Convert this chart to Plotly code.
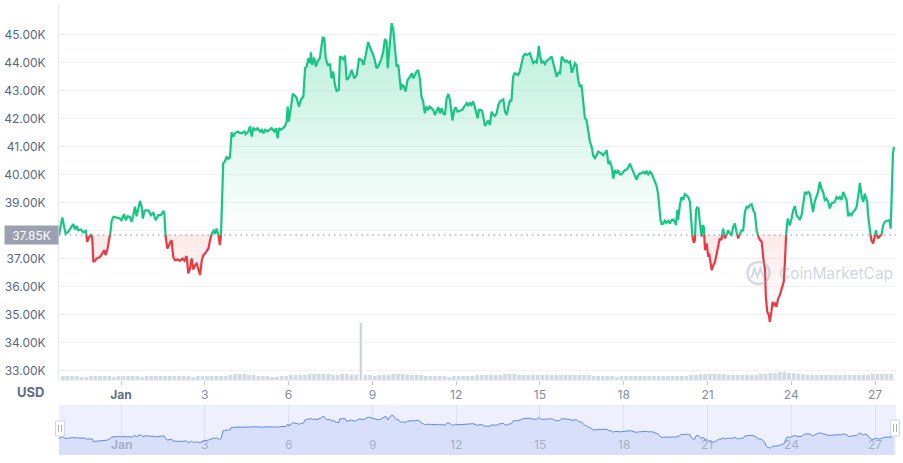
import numpy as np
import pandas as pd
import plotly.graph_objects as go

# ---------------- data ----------------
BASE_DATE = pd.Timestamp("2021-12-31")   # day_offset 0 = position of the "Jan" tick
ref_price_k = 37.85                        # reference (open) price, thousands USD

day_offset = [
    -2.22, -2.18, -2.10, -2.03, -1.98, -1.89, -1.79, -1.71, -1.65, -1.59,
    -1.53, -1.43, -1.35, -1.26, -1.21, -1.15, -1.07, -1.03, -0.99, -0.93,
    -0.87, -0.75, -0.67, -0.60, -0.55, -0.48, -0.42, -0.39, -0.33, -0.27,
    -0.16, -0.04, 0.02, 0.11, 0.17, 0.24, 0.32, 0.38, 0.44, 0.50,
    0.56, 0.62, 0.68, 0.74, 0.78, 0.84, 0.92, 1.00, 1.07, 1.16,
    1.24, 1.34, 1.43, 1.52, 1.55, 1.60, 1.66, 1.75, 1.81, 1.87,
    1.93, 2.03, 2.11, 2.20, 2.27, 2.35, 2.41, 2.47, 2.53, 2.59,
    2.65, 2.71, 2.77, 2.83, 2.89, 2.95, 3.01, 3.07, 3.13, 3.19,
    3.25, 3.31, 3.37, 3.42, 3.48, 3.54, 3.58,
    3.66, 3.72, 3.78, 3.84, 3.90, 3.96, 4.02, 4.08, 4.18, 4.26,
    4.32, 4.42, 4.46, 4.56, 4.62, 4.68, 4.74, 4.82, 4.89, 4.98,
    5.04, 5.10, 5.16, 5.25, 5.33, 5.39, 5.49, 5.55, 5.61, 5.66,
    5.73, 5.81, 5.87, 5.93, 5.97, 6.01, 6.09, 6.15, 6.23, 6.29,
    6.37, 6.44, 6.53, 6.59, 6.65, 6.71, 6.77, 6.80, 6.85, 6.92,
    6.98, 7.04, 7.12, 7.18, 7.22, 7.28, 7.33, 7.40, 7.48, 7.54,
    7.60, 7.66, 7.72, 7.80, 7.84, 7.90, 7.96, 8.02, 8.08, 8.14,
    8.20, 8.26, 8.35, 8.44, 8.52, 8.62, 8.68, 8.74, 8.79, 8.85,
    8.91, 8.97, 9.07, 9.15, 9.21, 9.31, 9.39, 9.45, 9.51, 9.55,
    9.59, 9.65, 9.69, 9.75, 9.81, 9.87, 9.93, 9.99, 10.02, 10.07,
    10.13, 10.19, 10.26, 10.35, 10.41, 10.47,
    10.58, 10.64, 10.70, 10.76, 10.82, 10.88, 10.94, 11.00, 11.06, 11.12,
    11.18, 11.24, 11.30, 11.36, 11.42, 11.48, 11.54, 11.60, 11.66, 11.72,
    11.78, 11.84, 11.87, 11.93, 11.98, 12.05, 12.14, 12.22, 12.29, 12.38,
    12.44, 12.49, 12.55, 12.61, 12.67, 12.71, 12.77, 12.82, 12.89, 12.94,
    12.99, 13.03, 13.09, 13.15, 13.21, 13.27, 13.33, 13.39, 13.45, 13.51,
    13.57, 13.63, 13.69, 13.75, 13.81, 13.87, 13.93, 13.98, 14.04, 14.10,
    14.16, 14.22, 14.28, 14.34, 14.40, 14.46, 14.55, 14.64, 14.70, 14.76,
    14.82, 14.88, 14.92, 14.96, 15.00, 15.06, 15.12, 15.18, 15.24, 15.30,
    15.36, 15.42, 15.48, 15.54, 15.60, 15.66, 15.72, 15.78, 15.84, 15.90,
    15.96, 16.02, 16.08, 16.14, 16.20, 16.25, 16.31, 16.37, 16.43, 16.49,
    16.55, 16.61, 16.67, 16.73, 16.79, 16.85, 16.91, 16.97, 17.03, 17.09,
    17.21, 17.27, 17.33, 17.39, 17.45, 17.51, 17.57, 17.63, 17.68, 17.74,
    17.80, 17.86, 17.92, 17.98, 18.04, 18.10, 18.16, 18.22, 18.28, 18.34,
    18.40, 18.46, 18.52, 18.58, 18.64, 18.70, 18.76, 18.82, 18.88, 18.94,
    18.99, 19.05, 19.11, 19.17, 19.23, 19.27, 19.32, 19.36, 19.42, 19.47,
    19.53, 19.59, 19.65, 19.71, 19.77, 19.83, 19.87, 19.92, 19.95, 20.01,
    20.07, 20.13, 20.19, 20.25, 20.31, 20.37, 20.43, 20.46, 20.51, 20.55,
    20.59, 20.63, 20.68, 20.73, 20.79, 20.82, 20.87, 20.91, 20.97, 21.03,
    21.06, 21.11, 21.15, 21.21, 21.26, 21.32, 21.38, 21.44, 21.50, 21.56,
    21.62, 21.68, 21.74, 21.80, 21.86, 21.92, 21.98, 22.04, 22.10, 22.16,
    22.22, 22.28, 22.34, 22.40, 22.46, 22.52, 22.58, 22.64, 22.70, 22.76,
    22.82, 22.88, 22.94,
    23.00, 23.06, 23.09, 23.14, 23.20, 23.23, 23.29, 23.33, 23.38, 23.42,
    23.47, 23.53, 23.59, 23.65, 23.69, 23.73, 23.77, 23.81, 23.83, 23.87,
    23.90, 23.95, 24.01, 24.07, 24.13, 24.19, 24.25, 24.31, 24.37, 24.43,
    24.49, 24.55, 24.61, 24.67, 24.73, 24.78, 24.84, 24.90, 24.96, 25.02,
    25.08, 25.14, 25.20, 25.26, 25.32, 25.38, 25.44, 25.50, 25.56, 25.62,
    25.68, 25.74, 25.80, 25.86, 25.92, 25.98, 26.04, 26.10, 26.16, 26.22,
    26.28, 26.34, 26.40, 26.46, 26.52, 26.58, 26.63, 26.67, 26.72, 26.75,
    26.81, 26.87, 26.93, 26.99, 27.03, 27.08, 27.11, 27.17, 27.23, 27.29,
    27.35, 27.41, 27.47, 27.52, 27.56, 27.61, 27.64, 27.68,
]

price_k = [
    37.85, 38.08, 38.48, 38.12, 37.90, 37.96, 38.12, 38.24, 38.05, 38.17,
    38.02, 38.05, 37.95, 38.00, 37.61, 37.76, 37.88, 37.73, 36.89, 36.93,
    37.01, 37.07, 37.19, 37.31, 37.13, 37.37, 37.73, 37.85, 38.38, 38.50,
    38.48, 38.44, 38.38, 38.60, 38.38, 38.52, 38.50, 38.32, 38.56, 38.86,
    38.52, 38.80, 39.07, 38.86, 38.44, 38.71, 38.74, 38.71, 38.56, 38.64,
    38.38, 38.56, 38.56, 38.71, 38.62, 37.79, 37.37, 37.52, 37.67, 37.07,
    36.95, 36.98, 36.93, 37.01, 36.93, 37.10, 36.48, 36.65, 37.01, 36.62,
    36.77, 36.83, 36.65, 36.42, 36.93, 37.13, 37.19, 37.31, 37.37, 37.67,
    37.90, 38.00, 37.90, 38.08, 37.90, 37.49, 37.85,
    40.42, 40.48, 40.65, 40.57, 40.62, 41.52, 41.37, 41.49, 41.55, 41.49,
    41.49, 41.55, 41.45, 41.55, 41.73, 41.37, 41.67, 41.61, 41.67, 41.55,
    41.61, 41.49, 41.61, 41.55, 41.61, 41.67, 41.55, 41.67, 41.31, 41.67,
    41.61, 41.67, 41.73, 41.90, 42.44, 41.90, 42.38, 42.88, 42.83, 42.74,
    42.44, 42.68, 42.80, 43.81, 43.87, 44.17, 43.99, 44.38, 43.93, 44.19,
    43.87, 44.05, 44.17, 44.52, 44.90, 44.88, 44.17, 43.93, 43.95, 43.45,
    43.69, 43.21, 43.00, 43.04, 44.23, 44.19, 44.11, 44.26, 43.39, 43.45,
    43.57, 43.75, 43.45, 43.57, 44.14, 44.11, 43.93, 44.17, 44.40, 44.74,
    44.58, 44.40, 44.17, 43.81, 43.87, 44.11, 44.40, 44.86, 44.76, 43.81,
    44.29, 45.24, 45.42, 45.18, 44.58, 43.87, 43.93, 43.33, 43.04, 43.21,
    43.15, 42.98, 43.39, 43.51, 43.63, 43.45,
    43.69, 43.75, 43.45, 42.80, 42.62, 42.20, 42.44, 42.32, 42.44, 42.38,
    42.32, 42.14, 42.32, 42.42, 42.20, 42.38, 42.20, 42.14, 42.74, 42.89,
    42.68, 42.20, 41.94, 42.32, 42.42, 42.26, 42.30, 42.32, 42.44, 42.56,
    42.46, 42.58, 42.50, 42.62, 42.42, 42.23, 42.02, 42.32, 42.32, 42.26,
    42.02, 41.75, 41.85, 41.94, 41.79, 42.26, 42.14, 42.11, 42.20, 42.50,
    42.62, 42.65, 42.70, 42.26, 42.14, 42.44, 42.68, 42.62, 43.51, 43.63,
    43.61, 43.57, 43.69, 43.99, 44.23, 44.32, 44.29, 44.35, 44.13, 43.99,
    44.05, 44.01, 44.23, 44.61, 44.29, 44.01, 44.05, 43.96, 44.08, 44.11,
    44.17, 44.23, 43.99, 43.69, 43.51, 43.65, 43.63, 44.23, 44.11, 44.05,
    44.08, 44.01, 44.05, 43.65, 43.81, 43.99, 43.93, 43.39, 43.15, 43.21,
    42.62, 42.02, 41.96, 41.61, 41.19, 41.01, 40.68, 40.60, 40.71, 40.83,
    40.76, 40.70, 40.79, 40.88, 40.40, 40.46, 40.29, 39.87, 40.17, 40.05,
    40.17, 40.02, 40.02, 40.11, 40.17, 40.19, 40.26, 40.40, 40.26, 40.17,
    39.99, 39.83, 39.99, 40.05, 40.05, 40.11, 40.05, 40.14, 39.99, 40.11,
    40.07, 39.93, 39.81, 39.63, 39.33, 38.86, 38.38, 38.24, 38.26, 38.36,
    38.29, 38.36, 38.26, 38.38, 38.40, 38.32, 38.20, 38.74, 38.40, 38.92,
    39.21, 39.10, 39.31, 39.27, 39.21, 39.04, 38.26, 37.81, 37.57, 37.67,
    38.74, 38.83, 38.80, 38.26, 37.79, 38.20, 38.14, 37.31, 37.55, 37.07,
    37.19, 36.77, 36.60, 36.77, 36.86, 37.13, 37.49, 37.73, 37.67, 38.08,
    37.73, 37.85, 38.02, 37.90, 37.85, 38.14, 38.26, 37.96, 37.73, 37.90,
    38.02, 38.02, 38.68, 38.86, 38.83, 38.92, 38.95, 38.74, 38.62, 38.02,
    37.79, 37.67, 37.61,
    37.01, 36.60, 35.64, 35.11, 34.99, 34.75, 35.11, 35.46, 35.35, 35.40,
    35.29, 35.58, 35.70, 35.94, 36.12, 36.18, 36.83, 37.79, 38.02, 38.44,
    38.32, 38.20, 38.44, 38.74, 38.88, 38.56, 38.48, 38.40, 38.56, 38.92,
    39.39, 39.33, 39.39, 39.31, 38.98, 38.68, 39.04, 39.21, 39.39, 39.75,
    39.51, 39.39, 39.10, 39.15, 39.04, 38.80, 38.98, 39.00, 39.04, 39.21,
    39.15, 39.21, 39.10, 39.39, 39.21, 39.10, 38.52, 38.62, 38.56, 38.68,
    38.74, 38.86, 39.27, 39.71, 39.21, 39.04, 39.33, 39.15, 39.04, 38.56,
    38.02, 37.67, 37.55, 37.73, 38.02, 37.79, 37.73, 37.81, 37.85, 38.20,
    38.32, 38.36, 38.36, 38.38, 38.08, 39.81, 40.76, 41.00,
]

# 4-hour volume bars (relative height); first bar starts 2 days 4 h before the "Jan" tick
vol_start = "2021-12-28 20:00"
volume_b = [
    4, 4, 4, 4, 3, 3, 4, 4, 4, 4, 4, 3, 4,
    4, 4, 4, 4, 3, 4, 4, 4, 4, 4, 4, 4, 4, 4, 4, 3, 4,
    4, 4, 4, 4, 4, 4, 5,
    6, 6, 6, 5, 5,
    4, 4, 4, 3, 3, 4, 4, 5,
    5, 5, 5, 6, 6, 6, 6, 6, 5, 5, 6, 6, 5, 5,
    57,
    5, 5, 4, 5, 5, 5, 6, 6, 6, 5, 5, 5, 5,
    4, 4, 4, 4, 4, 3, 4, 4, 4, 4,
    4, 5, 5, 5, 5, 5, 5, 6, 6, 6, 5, 5,
    5, 5, 5, 5, 5, 5, 5, 5, 5, 5, 5, 5, 5, 5, 4, 4, 4,
    4, 4, 3, 4, 4, 4, 4, 4, 4, 4, 4, 4, 4, 4, 4, 4, 4, 4, 5,
    5, 6, 6, 6, 6, 6, 6, 5, 5, 5, 5, 5,
    5, 5, 6, 6, 7, 7, 8, 8, 7, 7, 6, 6,
    5, 5, 5, 5, 5, 5, 5, 5, 5, 5, 5, 5, 5,
    5, 6, 6, 6, 6, 6,
]

x_tick_dates = ["2021-12-31", "2022-01-03", "2022-01-06", "2022-01-09", "2022-01-12",
                "2022-01-15", "2022-01-18", "2022-01-21", "2022-01-24", "2022-01-27"]
x_tick_labels = ["Jan", "3", "6", "9", "12", "15", "18", "21", "24", "27"]
y_tick_k = [33, 34, 35, 36, 37, 38, 39, 40, 41, 42, 43, 44, 45]
y_tick_labels = ["33.00K", "34.00K", "35.00K", "36.00K", "37.00K", "",   # 38.00K hidden by the price tag
                 "39.00K", "40.00K", "41.00K", "42.00K", "43.00K", "44.00K", "45.00K"]
x_view_days = [-2.22, 27.75]

GREEN = "#16c784"
RED = "#ea3943"
FONT = "Inter, Roboto, sans-serif"

assert len(day_offset) == len(price_k)


def to_time(days):
    return BASE_DATE + pd.to_timedelta(np.asarray(days, dtype=float), unit="D")


# insert the crossings with the reference price so colours switch exactly there
xs, ys = [day_offset[0]], [price_k[0]]
for i in range(1, len(price_k)):
    a = price_k[i - 1] - ref_price_k
    b = price_k[i] - ref_price_k
    if a * b < 0:
        f = a / (a - b)
        xs.append(day_offset[i - 1] + f * (day_offset[i] - day_offset[i - 1]))
        ys.append(ref_price_k)
    xs.append(day_offset[i])
    ys.append(price_k[i])
xs = np.array(xs)
ys = np.array(ys)
t_all = to_time(xs)
base = np.full(len(ys), ref_price_k)

up_line = np.where(ys >= ref_price_k - 1e-9, ys, np.nan)
dn_line = np.where(ys <= ref_price_k + 1e-9, ys, np.nan)

vol_times = pd.date_range(vol_start, periods=len(volume_b), freq="4h") + pd.Timedelta(hours=2)
vol_arr = np.array(volume_b)
bar_ms = 4 * 3600 * 1000
vol_width = np.where(vol_arr > 20, 0.45 * bar_ms, 0.8 * bar_ms)
vol_color = np.where(vol_arr > 20, "#c9d0de", "#d3d9e5")

fig = go.Figure()

# volume
fig.add_trace(go.Bar(x=vol_times, y=volume_b, yaxis="y3", xaxis="x",
                     marker=dict(color=list(vol_color), line=dict(width=0)),
                     width=list(vol_width), hoverinfo="skip", showlegend=False))

# green fill (above reference)
fig.add_trace(go.Scatter(x=t_all, y=base, mode="lines", line=dict(width=0),
                         hoverinfo="skip", showlegend=False))
fig.add_trace(go.Scatter(x=t_all, y=np.maximum(ys, ref_price_k), mode="lines",
                         line=dict(width=0), fill="tonexty",
                         fillgradient=dict(type="vertical",
                                           colorscale=[[0, "rgba(22,199,132,0.0)"],
                                                       [1, "rgba(22,199,132,0.30)"]],
                                           start=ref_price_k, stop=float(ys.max())),
                         hoverinfo="skip", showlegend=False))
# red fill (below reference)
fig.add_trace(go.Scatter(x=t_all, y=base, mode="lines", line=dict(width=0),
                         hoverinfo="skip", showlegend=False))
fig.add_trace(go.Scatter(x=t_all, y=np.minimum(ys, ref_price_k), mode="lines",
                         line=dict(width=0), fill="tonexty",
                         fillgradient=dict(type="vertical",
                                           colorscale=[[0, "rgba(234,57,67,0.0)"],
                                                       [1, "rgba(234,57,67,0.11)"]],
                                           start=float(ys.min()), stop=ref_price_k),
                         hoverinfo="skip", showlegend=False))
# price lines
fig.add_trace(go.Scatter(x=t_all, y=up_line, mode="lines", connectgaps=False,
                         line=dict(color=GREEN, width=2.2), showlegend=False))
fig.add_trace(go.Scatter(x=t_all, y=dn_line, mode="lines", connectgaps=False,
                         line=dict(color=RED, width=2.2), showlegend=False))

# navigator
fig.add_trace(go.Scatter(x=t_all, y=ys, xaxis="x2", yaxis="y2", mode="lines",
                         fill="tozeroy", fillcolor="#d7dffb",
                         line=dict(color="#5d85f6", width=1), hoverinfo="skip",
                         showlegend=False))

tick_times = pd.to_datetime(x_tick_dates)
main_ticktext = [f"<b><span style='color:#616e85'>{t}</span></b>" if t == "Jan" else t
                 for t in x_tick_labels]
x_range = list(to_time(x_view_days))

L, R, T, B = 59, 7, 5, 8
W, H = 903, 463
PW, PH = W - L - R, H - T - B


def px(xp):
    return (xp - L) / PW


def py(yp):
    return (H - B - yp) / PH


main_bottom = py(380)
nav_top = py(405)

shapes = [
    # navigator background
    dict(type="rect", xref="paper", yref="paper", x0=0, x1=1, y0=0, y1=nav_top,
         fillcolor="#eef1fd", line=dict(width=0), layer="below"),
    # reference dotted line
    dict(type="line", xref="paper", yref="y", x0=0, x1=1, y0=ref_price_k, y1=ref_price_k,
         line=dict(color="#8a93a6", width=1, dash="1.5px,4px")),
    # watermark logo
    dict(type="circle", xref="paper", yref="paper", x0=px(747.5), x1=px(769.5),
         y0=py(284), y1=py(262), line=dict(color="rgba(150,160,185,0.4)", width=2.5)),
    dict(type="path", xref="paper", yref="paper",
         path=(f"M {px(751.5)} {py(278)} L {px(754.5)} {py(268.5)} L {px(757.5)} {py(277)} "
               f"L {px(760.5)} {py(268.5)} L {px(763.5)} {py(276.5)} L {px(766.5)} {py(272.5)}"),
         line=dict(color="rgba(150,160,185,0.4)", width=2.2)),
    # navigator handles
    dict(type="rect", xref="paper", yref="paper", x0=px(55.5), x1=px(64.5),
         y0=py(436), y1=py(421), fillcolor="white", line=dict(color="#cfd6e4", width=1)),
    dict(type="line", xref="paper", yref="paper", x0=px(58.5), x1=px(58.5),
         y0=py(432), y1=py(425), line=dict(color="#a6b0c3", width=1)),
    dict(type="line", xref="paper", yref="paper", x0=px(61.5), x1=px(61.5),
         y0=py(432), y1=py(425), line=dict(color="#a6b0c3", width=1)),
    dict(type="rect", xref="paper", yref="paper", x0=px(890.5), x1=px(899.5),
         y0=py(436), y1=py(420), fillcolor="white", line=dict(color="#cfd6e4", width=1)),
    dict(type="line", xref="paper", yref="paper", x0=px(893.5), x1=px(893.5),
         y0=py(432), y1=py(424), line=dict(color="#a6b0c3", width=1)),
    dict(type="line", xref="paper", yref="paper", x0=px(896.5), x1=px(896.5),
         y0=py(432), y1=py(424), line=dict(color="#a6b0c3", width=1)),
]

annotations = [
    dict(xref="paper", yref="y", x=0, y=ref_price_k, xanchor="right", yanchor="middle",
         text=f"{ref_price_k:.2f}K", showarrow=False, bgcolor="#9ba1b0",
         width=51, height=16, borderpad=1,
         font=dict(family=FONT, size=12, color="white")),
    dict(xref="paper", yref="paper", x=px(30), y=py(392), xanchor="center", yanchor="middle",
         text="<b>USD</b>", showarrow=False, font=dict(family=FONT, size=13, color="#616e85")),
    dict(xref="paper", yref="paper", x=px(777), y=py(273), xanchor="left", yanchor="middle",
         text="CoinMarketCap", showarrow=False,
         font=dict(family=FONT, size=15.5, color="rgba(150,160,185,0.45)")),
]
# navigator labels
for tt, lab in zip(tick_times, x_tick_labels):
    annotations.append(dict(xref="x2", yref="paper", x=tt, y=py(444), xanchor="center",
                            yanchor="middle", showarrow=False,
                            text=f"<b>{lab}</b>" if lab == "Jan" else lab,
                            font=dict(family=FONT, size=12, color="rgba(120,130,155,0.55)")))

fig.update_layout(
    width=W, height=H,
    margin=dict(l=L, r=R, t=T, b=B, autoexpand=False),
    paper_bgcolor="white", plot_bgcolor="white",
    font=dict(family=FONT, size=12, color="#58667e"),
    showlegend=False, hovermode=False,
    shapes=shapes, annotations=annotations,
    xaxis=dict(domain=[0, 1], anchor="y", type="date", range=x_range, automargin=False,
               tickvals=tick_times, ticktext=main_ticktext, showgrid=False,
               ticks="outside", ticklen=4, tickcolor="#c3c9d4", tickwidth=1,
               showline=True, linecolor="#eff2f5", zeroline=False,
               tickfont=dict(family=FONT, size=12, color="#858ca2")),
    yaxis=dict(domain=[main_bottom, 1], anchor="x", range=[32.67, 46.07], automargin=False,
               tickvals=y_tick_k, ticktext=y_tick_labels, showgrid=True,
               gridcolor="#eff2f5", gridwidth=1, zeroline=False, ticks="",
               showline=True, linecolor="#e3e7ed", ticklabelstandoff=10,
               tickfont=dict(family=FONT, size=12, color="#58667e")),
    yaxis3=dict(overlaying="y", anchor="x", range=[0, 375], visible=False),
    xaxis2=dict(domain=[0, 1], anchor="y2", type="date", range=x_range, automargin=False,
                tickvals=tick_times, showticklabels=False, showgrid=True,
                gridcolor="#d9dff4", ticks="", showline=False, zeroline=False),
    yaxis2=dict(domain=[0, nav_top], anchor="x2", range=[32.6, 48.6], visible=False),
)

fig.write_html("out.html", config={"displayModeBar": False},
               post_script="document.body.style.margin='0';document.body.style.padding='0';")
